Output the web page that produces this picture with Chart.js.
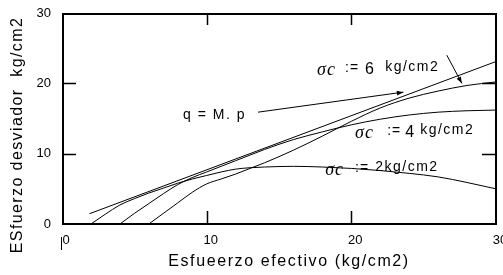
<!DOCTYPE html>
<html>
<head>
<meta charset="utf-8">
<script src="https://cdn.jsdelivr.net/npm/chart.js"></script>
<style>
  html, body { margin: 0; padding: 0; background: #fff; }
</style>
</head>
<body>
<canvas id="chart" width="503" height="275"></canvas>
<script>
const xTicks = [0, 10, 20, 30];
const yTicks = [0, 10, 20, 30];

// q = M.p
const pLine = [1.9, 30];
const qLine = [1.46, 23.1];

// sigma c = 2
const p2 = [2, 3, 4, 5, 6, 7, 8, 9, 10, 11, 12, 13, 14, 16, 18, 20, 22, 24, 26, 28, 30];
const q2 = [0, 1.4, 2.7, 3.6, 4.4, 5.1, 5.8, 6.4, 6.9, 7.4, 7.8, 8.0, 8.1, 8.2, 8.1, 7.9, 7.6, 7.2, 6.7, 5.9, 5.0];

// sigma c = 4
const p4 = [4, 5, 6, 7, 8, 9, 10, 11, 12, 13, 14, 16, 18, 20, 22, 24, 26, 28, 30];
const q4 = [0, 1.5, 2.9, 4.3, 5.6, 6.6, 7.4, 8.2, 9.0, 9.8, 10.6, 12.0, 13.1, 14.1, 14.9, 15.5, 15.9, 16.1, 16.2];

// sigma c = 6
const p6 = [6, 7, 8, 9, 10, 11, 12, 13, 14, 16, 18, 20, 22, 24, 26, 28, 30];
const q6 = [0, 1.5, 3.0, 4.5, 5.7, 6.4, 7.1, 7.9, 8.7, 10.5, 12.5, 14.6, 16.5, 17.9, 18.9, 19.7, 20.2];

const xTitle = 'Esfueerzo efectivo (kg/cm2)';
const yTitle = 'ESfuerzo desviador  kg/cm2';

const FONT = '"Liberation Sans", Arial, sans-serif';

function pts(xs, ys) {
    return xs.map((x, i) => ({ x: x, y: ys[i] }));
}

function lineSet(xs, ys) {
    return {
        data: pts(xs, ys),
        showLine: true,
        borderColor: '#000',
        borderWidth: 1,
        pointRadius: 0,
        fill: false,
        cubicInterpolationMode: 'monotone'
    };
}

function arrow(ctx, x1, y1, x2, y2) {
    ctx.beginPath();
    ctx.moveTo(x1, y1);
    ctx.lineTo(x2, y2);
    ctx.stroke();
    const a = Math.atan2(y2 - y1, x2 - x1);
    const len = 7, w = 0.35;
    ctx.beginPath();
    ctx.moveTo(x2, y2);
    ctx.lineTo(x2 - len * Math.cos(a - w), y2 - len * Math.sin(a - w));
    ctx.lineTo(x2 - len * Math.cos(a + w), y2 - len * Math.sin(a + w));
    ctx.closePath();
    ctx.fill();
}

// frame, inner ticks, labels and leaders
const decor = {
    id: 'decor',
    afterDatasetsDraw(chart) {
        const { ctx, chartArea: ca, scales: { x, y } } = chart;
        ctx.save();
        ctx.strokeStyle = '#000';
        ctx.fillStyle = '#000';

        ctx.lineWidth = 2;
        ctx.strokeRect(ca.left + 1, ca.top + 1, ca.right - ca.left - 1, ca.bottom - ca.top - 1);

        ctx.lineWidth = 1.5;
        ctx.beginPath();
        xTicks.slice(1, -1).forEach(v => {
            const px = Math.round(x.getPixelForValue(v)) + 0.5;
            ctx.moveTo(px, ca.bottom); ctx.lineTo(px, ca.bottom - 13);
            ctx.moveTo(px, ca.top); ctx.lineTo(px, ca.top + 12);
        });
        yTicks.slice(1, -1).forEach(v => {
            const py = Math.round(y.getPixelForValue(v)) + 0.5;
            ctx.moveTo(ca.left, py); ctx.lineTo(ca.left + 14, py);
            ctx.moveTo(ca.right, py); ctx.lineTo(ca.right - 14, py);
        });
        ctx.stroke();

        // leader lines
        ctx.lineWidth = 1;
        arrow(ctx, x.getPixelForValue(13.55), y.getPixelForValue(15.9),
                   x.getPixelForValue(23.6), y.getPixelForValue(18.75));
        arrow(ctx, x.getPixelForValue(26.6), y.getPixelForValue(24.0),
                   x.getPixelForValue(27.64), y.getPixelForValue(20.0));

        // annotation text
        ctx.textBaseline = 'middle';
        ctx.textAlign = 'left';
        const put = (txt, p, q, font, sp) => {
            ctx.font = font;
            ctx.letterSpacing = sp || '0px';
            ctx.fillText(txt, x.getPixelForValue(p), y.getPixelForValue(q));
        };
        const sans = '14px ' + FONT;
        const sig = 'italic 18px "Liberation Serif", "Times New Roman", serif';
        put('q = M. p', 8.37, 15.5, sans, '1.5px');

        put('\u03C3c', 17.63, 21.9, sig, '1px');
        put(':=', 19.57, 22.16, sans, '1px');
        put('6', 20.95, 22.0, '16px ' + FONT);
        put('kg/cm2', 22.34, 22.3, sans, '1.5px');

        put('\u03C3c', 20.26, 12.85, sig, '1px');
        put(':=', 22.48, 13.14, sans, '1px');
        put('4', 23.72, 13.0, '16px ' + FONT);
        put('kg/cm2', 24.76, 13.3, sans, '1.5px');

        put('\u03C3c', 18.19, 7.65, sig, '1px');
        put(':=', 20.26, 7.95, sans, '1px');
        put('2kg/cm2', 21.65, 8.05, sans, '1.5px');

        // axis titles
        ctx.font = '16px ' + FONT;
        ctx.letterSpacing = '1.6px';
        ctx.textAlign = 'center';
        ctx.fillText(xTitle, (ca.left + ca.right) / 2 + 10, chart.height - 13);
        ctx.save();
        ctx.translate(18, ca.bottom - 89);
        ctx.rotate(-Math.PI / 2);
        ctx.letterSpacing = '1.4px';
        ctx.fillText(yTitle, 0, 0);
        ctx.restore();

        // small mark left of the "0" label
        ctx.lineWidth = 1;
        ctx.beginPath();
        ctx.moveTo(ca.left - 0.5, ca.bottom + 13); ctx.lineTo(ca.left - 0.5, ca.bottom + 26);
        ctx.stroke();

        ctx.restore();
    }
};

new Chart(document.getElementById('chart'), {
    type: 'scatter',
    data: {
        datasets: [
            lineSet(pLine, qLine),
            lineSet(p2, q2),
            lineSet(p4, q4),
            lineSet(p6, q6)
        ]
    },
    options: {
        responsive: false,
        animation: false,
        devicePixelRatio: 1,
        layout: { padding: { top: 13, right: 7, left: 0, bottom: 0 } },
        plugins: { legend: { display: false }, tooltip: { enabled: false } },
        scales: {
            x: {
                type: 'linear', min: 0, max: 30,
                afterBuildTicks: s => { s.ticks = xTicks.map(v => ({ value: v })); },
                ticks: { color: '#000', padding: 9, labelOffset: 4, maxRotation: 0, font: { family: FONT, size: 13 } },
                grid: { display: false, drawTicks: false },
                border: { display: false },
                afterFit: s => { s.height = 51; s.paddingLeft = 0; s.paddingRight = 0; }
            },
            y: {
                type: 'linear', min: 0, max: 30,
                afterBuildTicks: s => { s.ticks = yTicks.map(v => ({ value: v })); },
                ticks: { color: '#000', padding: 11, font: { family: FONT, size: 13 } },
                grid: { display: false, drawTicks: false },
                border: { display: false },
                afterFit: s => { s.width = 62; s.paddingTop = 0; s.paddingBottom = 0; }
            }
        }
    },
    plugins: [decor]
});
</script>
</body>
</html>
